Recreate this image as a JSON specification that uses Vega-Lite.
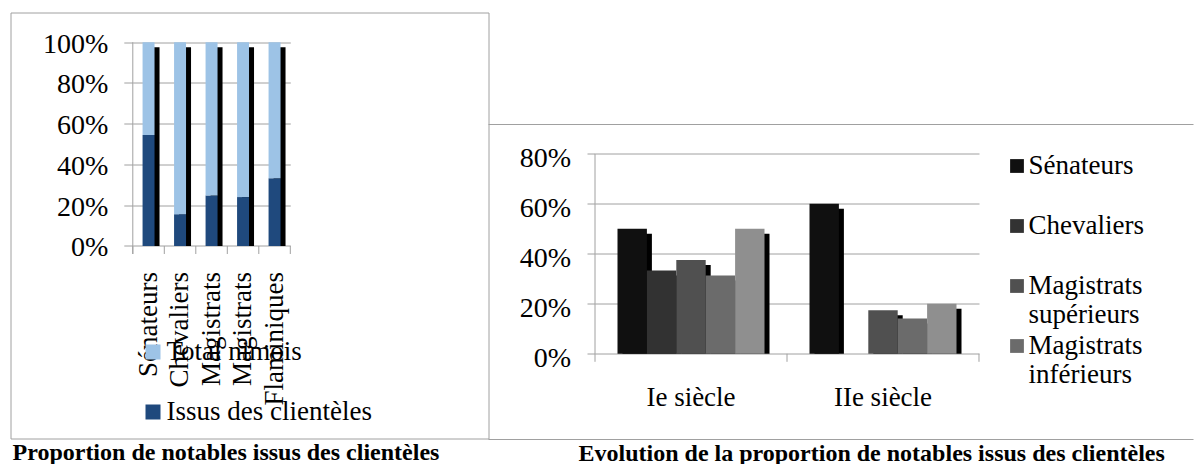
{
  "$schema": "https://vega.github.io/schema/vega-lite/v6.json",
  "background": "white",
  "padding": {"left": 9.5, "top": 11.5, "right": 0, "bottom": 0},
  "spacing": 0,
  "bounds": "flush",
  "resolve": {"scale": {"color": "independent"}, "legend": {"color": "independent"}},
  "config": {
    "view": {"stroke": null},
    "axis": {"labelFont": "Liberation Serif", "labelColor": "#000000", "tickColor": "#a0a0a0", "tickWidth": 1, "gridColor": "#a0a0a0", "gridWidth": 1, "gridOpacity": 1, "domain": false, "grid": false, "title": null},
    "legend": {"labelFont": "Liberation Serif", "labelColor": "#000000", "title": null},
    "title": {"font": "Liberation Serif", "fontSize": 24, "fontWeight": "bold", "color": "#000000", "orient": "bottom", "anchor": "start", "frame": "group", "baseline": "alphabetic", "offset": 2}
  },
  "datasets": {
    "gauche": [
      {"categorie": "Sénateurs", "serie": "Issus des clientèles", "part": 54.5},
      {"categorie": "Sénateurs", "serie": "Total nimois", "part": 45.5},
      {"categorie": "Chevaliers", "serie": "Issus des clientèles", "part": 15.6},
      {"categorie": "Chevaliers", "serie": "Total nimois", "part": 84.4},
      {"categorie": "Magistrats supérieurs", "serie": "Issus des clientèles", "part": 24.8},
      {"categorie": "Magistrats supérieurs", "serie": "Total nimois", "part": 75.2},
      {"categorie": "Magistrats inférieurs", "serie": "Issus des clientèles", "part": 24.0},
      {"categorie": "Magistrats inférieurs", "serie": "Total nimois", "part": 76.0},
      {"categorie": "Flaminiques", "serie": "Issus des clientèles", "part": 33.2},
      {"categorie": "Flaminiques", "serie": "Total nimois", "part": 66.8}
    ],
    "droite": [
      {"siecle": "Ie siècle", "groupe": "Sénateurs", "part": 0.5},
      {"siecle": "Ie siècle", "groupe": "Chevaliers", "part": 0.333},
      {"siecle": "Ie siècle", "groupe": "Magistrats supérieurs", "part": 0.375},
      {"siecle": "Ie siècle", "groupe": "Magistrats inférieurs", "part": 0.313},
      {"siecle": "Ie siècle", "groupe": "Flaminiques", "part": 0.5},
      {"siecle": "IIe siècle", "groupe": "Sénateurs", "part": 0.6},
      {"siecle": "IIe siècle", "groupe": "Magistrats supérieurs", "part": 0.174},
      {"siecle": "IIe siècle", "groupe": "Magistrats inférieurs", "part": 0.141},
      {"siecle": "IIe siècle", "groupe": "Flaminiques", "part": 0.2}
    ]
  },
  "hconcat": [
    {
      "width": 478,
      "height": 426,
      "view": {"stroke": "#a0a0a0", "strokeWidth": 1, "fill": null},
      "title": {"text": "Proportion de notables issus des clientèles", "dx": 2},
      "layer": [
        {
          "data": {"name": "gauche"},
          "transform": [{"filter": "datum.serie === 'Total nimois'"}],
          "mark": {"type": "bar", "color": "#000000", "width": {"band": 0.38}, "xOffset": 5, "x2Offset": 5, "yOffset": 5},
          "encoding": {
            "x": {"field": "categorie", "type": "nominal", "sort": null,
              "scale": {"type": "band", "domain": ["Sénateurs", "Chevaliers", "Magistrats supérieurs", "Magistrats inférieurs", "Flaminiques"], "range": [122.3, 279.8], "paddingInner": 0, "paddingOuter": 0, "round": false}},
            "y": {"datum": 1, "type": "quantitative", "scale": {"domain": [-0.9446, 1.1457], "nice": false, "zero": false}},
            "y2": {"datum": 0}
          }
        },
        {
          "data": {"name": "gauche"},
          "mark": {"type": "bar", "width": {"band": 0.38}},
          "encoding": {
            "x": {"field": "categorie", "type": "nominal", "sort": null,
              "axis": {"orient": "bottom", "offset": -192.5, "ticks": false, "labelAngle": -90, "labelAlign": "right", "labelBaseline": "middle", "labelPadding": 25.5, "labelFontSize": 27, "labelLimit": 0, "labelExpr": "split(datum.label, ' ')[0]"}},
            "y": {"field": "part", "type": "quantitative", "stack": "normalize",
              "axis": {"orient": "left", "values": [0, 0.2, 0.4, 0.6, 0.8, 1], "format": ".0%", "offset": -122.3, "grid": true, "ticks": true, "tickSize": 9, "labelPadding": 16, "labelFontSize": 28, "labelOffset": 2}},
            "color": {"field": "serie", "type": "nominal",
              "scale": {"domain": ["Total nimois", "Issus des clientèles"], "range": ["#9DC3E6", "#1F497D"]},
              "legend": {"orient": "none", "legendX": 129, "legendY": 326, "symbolType": "square", "symbolSize": 225, "symbolStrokeWidth": 0, "labelFontSize": 27, "labelOffset": 0, "labelLimit": 0, "rowPadding": 32, "padding": 0}},
            "order": {"field": "serie", "sort": "ascending"}
          }
        },
        {
          "data": {"name": "gauche"},
          "transform": [{"filter": "datum.serie === 'Total nimois'"}],
          "mark": {"type": "rule", "color": "#a0a0a0", "y2Offset": 8},
          "encoding": {
            "x": {"field": "categorie", "type": "nominal", "sort": null, "bandPosition": 0},
            "y": {"datum": 0},
            "y2": {"datum": 0}
          }
        },
        {
          "data": {"values": [{}]},
          "mark": {"type": "rule", "color": "#a0a0a0", "y2Offset": 8},
          "encoding": {
            "x": {"datum": "Flaminiques", "bandPosition": 1},
            "y": {"datum": 0},
            "y2": {"datum": 0}
          }
        },
        {
          "data": {"values": [{}]},
          "mark": {"type": "rule", "color": "#a0a0a0", "y2Offset": 8},
          "encoding": {
            "x": {"datum": "Sénateurs", "bandPosition": 0},
            "y": {"datum": 1},
            "y2": {"datum": 0}
          }
        }
      ]
    },
    {
      "width": 705,
      "height": 427,
      "title": {"text": "Evolution de la proportion de notables issus des clientèles", "dx": 90},
      "resolve": {"scale": {"xOffset": "independent"}},
      "layer": [
        {
          "data": {"values": [{}]},
          "mark": {"type": "rule", "color": "#a0a0a0"},
          "encoding": {"y": {"datum": 0.9172, "type": "quantitative", "scale": {"domain": [-0.3428, 1.3652], "nice": false, "zero": false}}}
        },
        {
          "data": {"values": [{}]},
          "mark": {"type": "rule", "color": "#a0a0a0"},
          "encoding": {"y": {"datum": -0.3428, "type": "quantitative"}}
        },
        {
          "data": {"name": "droite"},
          "mark": {"type": "bar", "color": "#000000", "yOffset": 5},
          "encoding": {
            "x": {"field": "siecle", "type": "nominal", "sort": null,
              "scale": {"type": "band", "domain": ["Ie siècle", "IIe siècle"], "range": [106.5, 490.5], "paddingInner": 0.234375, "paddingOuter": 0.1171875, "align": 0.5, "round": false}},
            "xOffset": {"field": "groupe", "type": "nominal", "sort": null,
              "scale": {"domain": ["Sénateurs", "Chevaliers", "Magistrats supérieurs", "Magistrats inférieurs", "Flaminiques"], "range": [5, 152], "paddingInner": 0, "paddingOuter": 0}},
            "y": {"field": "part", "type": "quantitative"},
            "y2": {"datum": 0}
          }
        },
        {
          "data": {"name": "droite"},
          "mark": {"type": "bar"},
          "encoding": {
            "x": {"field": "siecle", "type": "nominal", "sort": null,
              "axis": {"orient": "bottom", "offset": -85.7, "ticks": false, "labelAngle": 0, "labelAlign": "center", "labelPadding": 31, "labelBaseline": "top", "labelFontSize": 27}},
            "xOffset": {"field": "groupe", "type": "nominal", "sort": null,
              "scale": {"domain": ["Sénateurs", "Chevaliers", "Magistrats supérieurs", "Magistrats inférieurs", "Flaminiques"], "paddingInner": 0, "paddingOuter": 0}},
            "y": {"field": "part", "type": "quantitative",
              "axis": {"orient": "left", "values": [0, 0.2, 0.4, 0.6, 0.8], "format": ".0%", "offset": -106.5, "grid": true, "ticks": true, "tickSize": 8, "labelPadding": 16.5, "labelFontSize": 28, "labelOffset": 5}},
            "color": {"field": "groupe", "type": "nominal", "sort": null,
              "scale": {"domain": ["Sénateurs", "Chevaliers", "Magistrats supérieurs", "Magistrats inférieurs", "Flaminiques"], "range": ["#101010", "#323232", "#505050", "#6b6b6b", "#8f8f8f"]},
              "legend": {"orient": "none", "legendX": 515, "legendY": 140, "values": ["Sénateurs", "Chevaliers", "Magistrats supérieurs", "Magistrats inférieurs"], "symbolType": "square", "symbolSize": 190, "symbolStrokeWidth": 0, "labelFontSize": 27, "labelOffset": -2, "labelLimit": 0, "labelExpr": "split(datum.label, ' ')", "gridAlign": "all", "rowPadding": 3, "padding": 0}}
          }
        },
        {
          "data": {"values": [{}]},
          "mark": {"type": "rule", "color": "#a0a0a0", "y2Offset": 8},
          "encoding": {
            "x": {"datum": "Ie siècle", "bandPosition": -0.15306},
            "y": {"datum": 0.8},
            "y2": {"datum": 0}
          }
        },
        {
          "data": {"values": [{}]},
          "mark": {"type": "rule", "color": "#a0a0a0", "y2Offset": 8},
          "encoding": {
            "x": {"datum": "IIe siècle", "bandPosition": -0.15306},
            "y": {"datum": 0},
            "y2": {"datum": 0}
          }
        },
        {
          "data": {"values": [{}]},
          "mark": {"type": "rule", "color": "#a0a0a0", "y2Offset": 8},
          "encoding": {
            "x": {"datum": "IIe siècle", "bandPosition": 1.15306},
            "y": {"datum": 0},
            "y2": {"datum": 0}
          }
        }
      ]
    }
  ]
}
